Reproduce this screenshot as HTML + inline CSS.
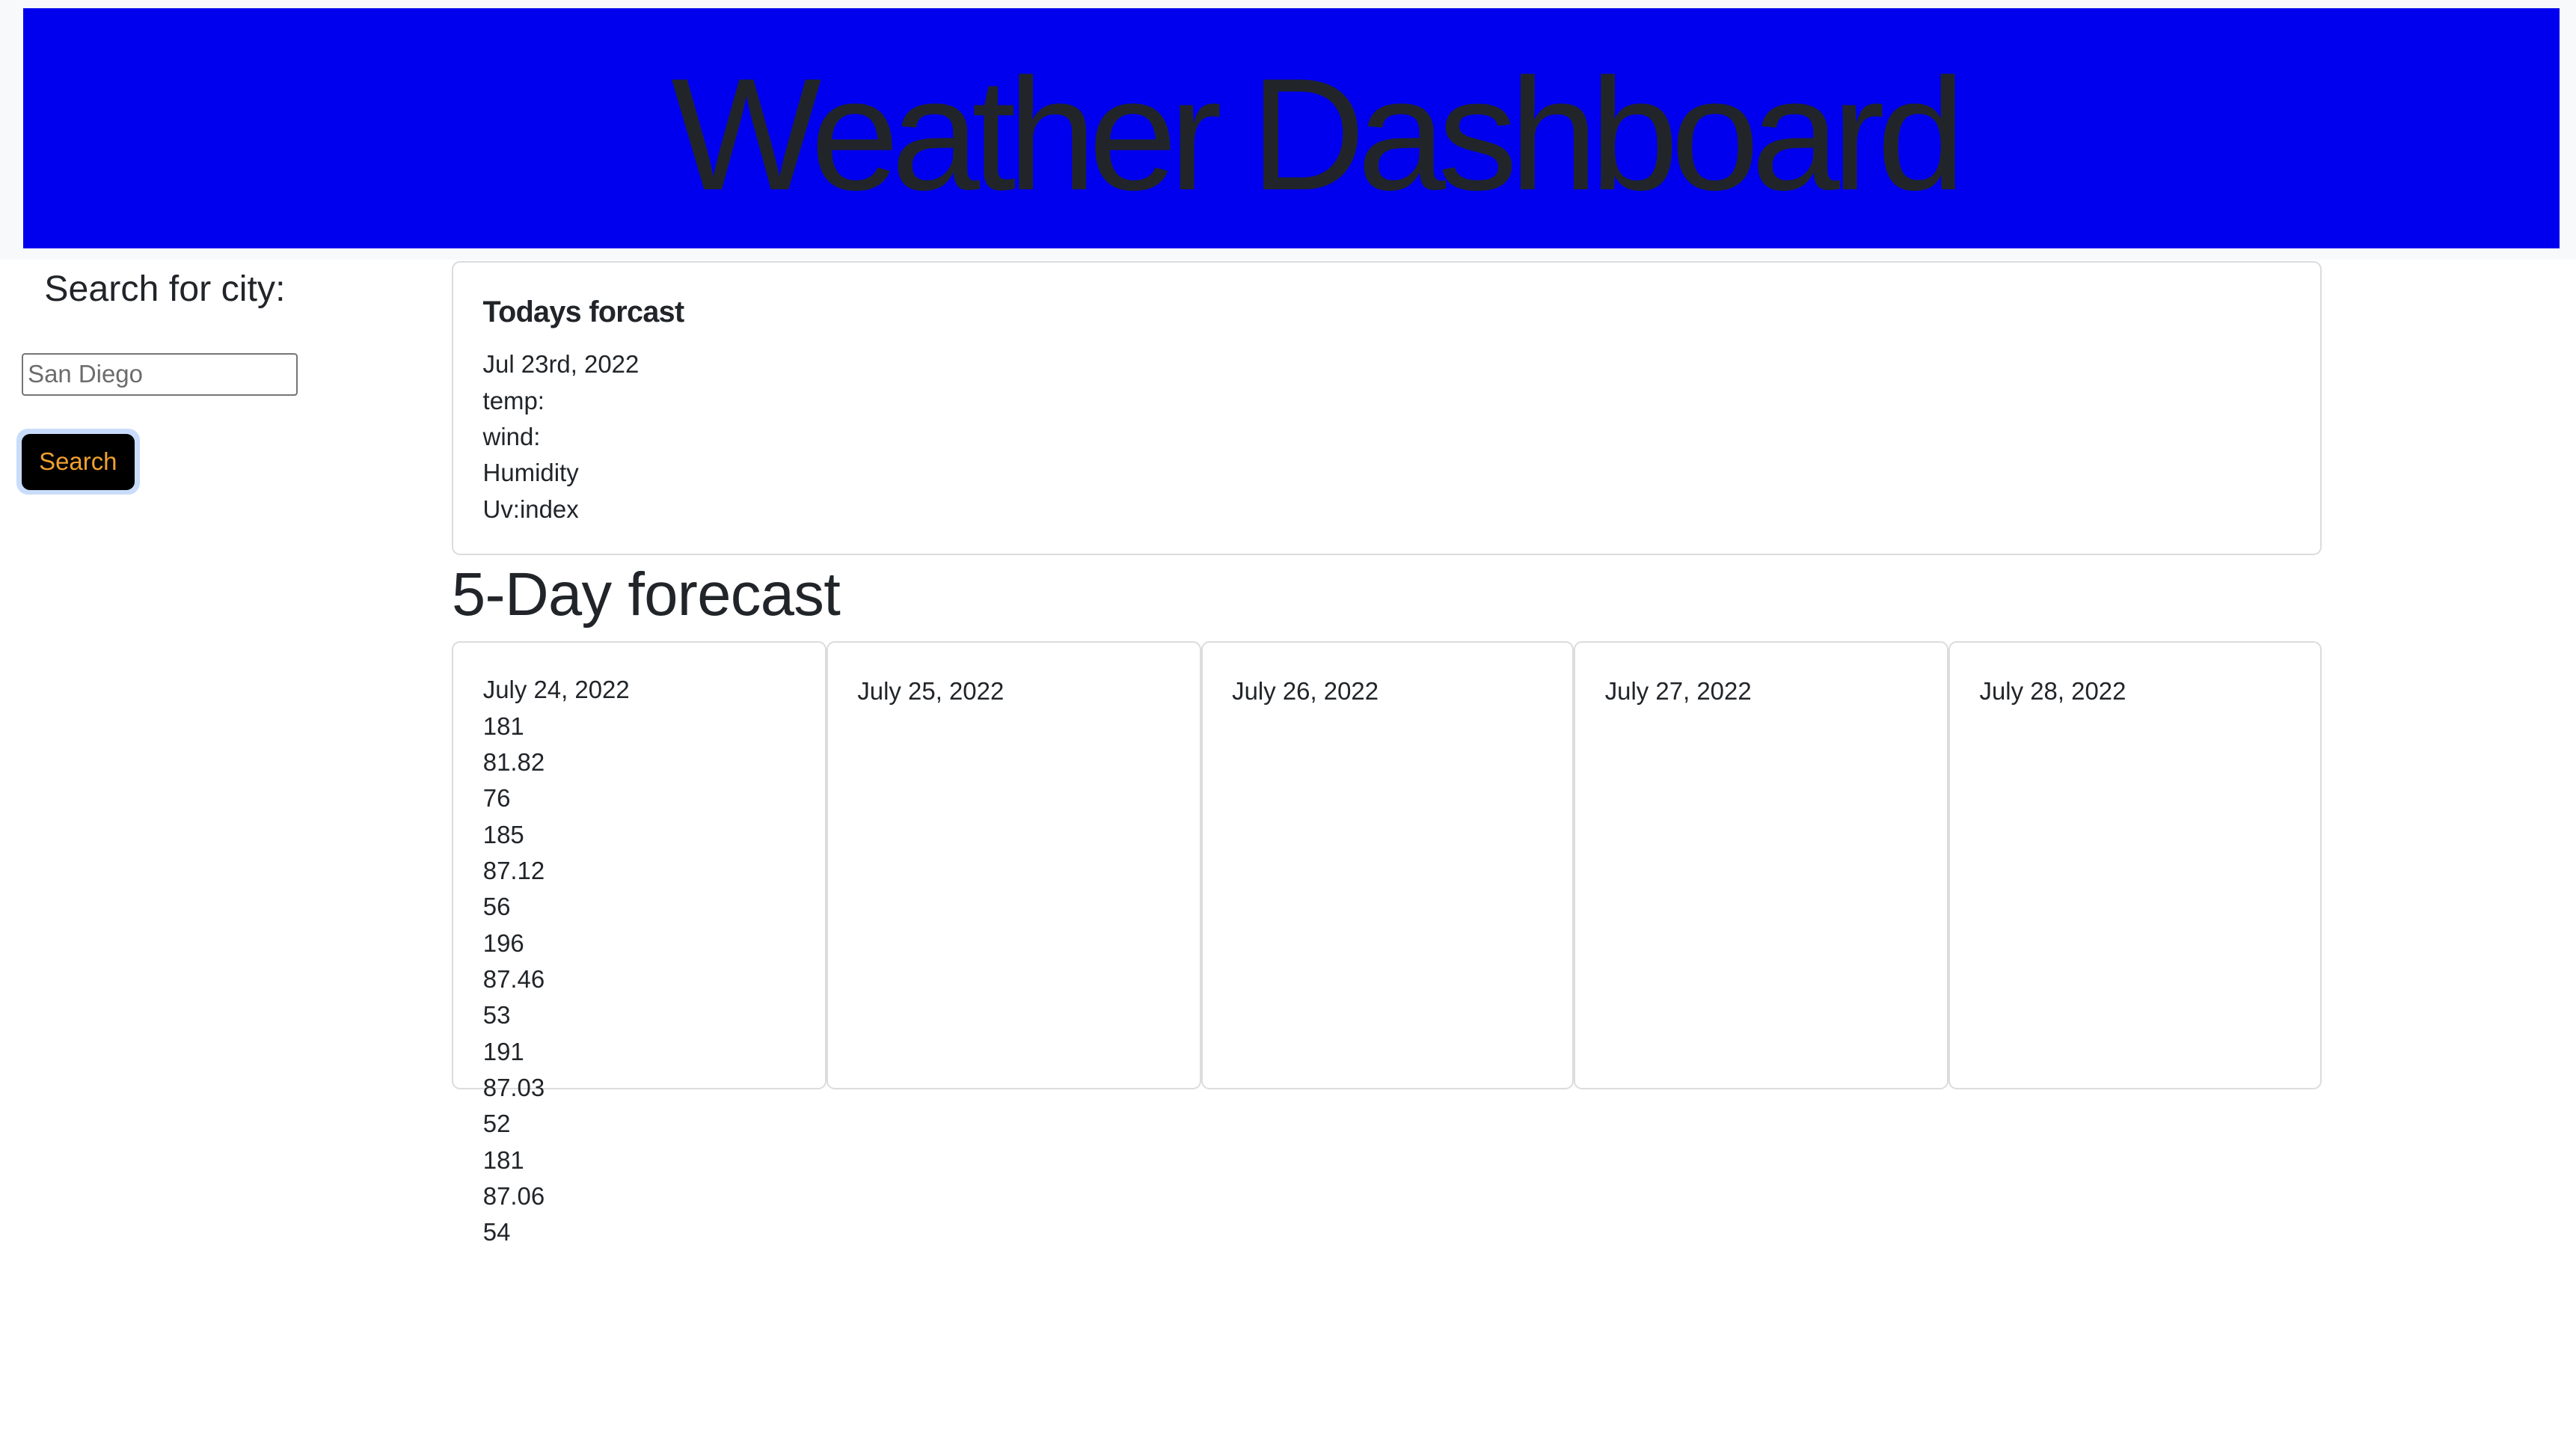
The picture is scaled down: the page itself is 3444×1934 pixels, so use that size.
<!DOCTYPE html>
<html><head><meta charset="utf-8">
<style>
html,body{margin:0;padding:0;background:#fff;}
body{width:1568px;height:880.6px;zoom:2.19643;position:relative;overflow:hidden;font-family:"Liberation Sans",Arial,sans-serif;color:#212529;}
.abs{position:absolute;white-space:nowrap;}
#hdr{left:0;top:0;width:1568px;height:158px;background:#f8f9fa;}
#blue{left:14px;top:5px;width:1544px;height:146px;background:#0000ee;}
#title{left:0;width:1600px;top:29px;text-align:center;font-size:97px;line-height:106px;letter-spacing:-4.9px;color:#212529;}
.card{position:absolute;border:1px solid #dcdcdc;border-radius:5px;box-sizing:border-box;background:#fff;}
.ln{font-size:15px;line-height:22px;}
</style></head><body>
<div class="abs" id="hdr"></div>
<div class="abs" id="blue"></div>
<div class="abs" id="title">Weather Dashboard</div>

<div class="abs" style="left:27px;top:162px;font-size:22px;line-height:28px;">Search for city:</div>
<div class="abs" style="left:13px;top:215px;width:168px;height:26px;border:1px solid #767676;border-radius:2px;box-sizing:border-box;font-size:15px;line-height:24px;color:#6c6c6c;padding-left:3px;">San Diego</div>
<div class="abs" style="left:10px;top:261px;width:75px;height:40px;border-radius:7px;background:#c9dcfb;"></div>
<div class="abs" style="left:13px;top:264px;width:69px;height:34px;border-radius:5px;background:#000;color:#f0a030;font-size:15px;line-height:34px;text-align:center;">Search</div>

<div class="card" style="left:275px;top:159px;width:1138px;height:179px;">
  <div class="abs" style="left:18px;top:18px;font-size:18px;font-weight:bold;line-height:24px;letter-spacing:-0.3px;">Todays forcast</div>
  <div class="abs" style="left:18px;top:51px;">
    <div class="ln">Jul 23rd, 2022</div>
    <div class="ln">temp:</div>
    <div class="ln">wind:</div>
    <div class="ln">Humidity</div>
    <div class="ln">Uv:index</div>
  </div>
</div>

<div class="abs" style="left:275px;top:340px;font-size:37px;line-height:44px;letter-spacing:-0.3px;">5-Day forecast</div>

<div class="card" style="left:275px;top:390px;width:228px;height:273px;"></div>
<div class="card" style="left:503px;top:390px;width:228px;height:273px;">
  <div class="abs ln" style="left:18px;top:19px;">July 25, 2022</div></div>
<div class="card" style="left:731px;top:390px;width:227px;height:273px;">
  <div class="abs ln" style="left:18px;top:19px;">July 26, 2022</div></div>
<div class="card" style="left:958px;top:390px;width:228px;height:273px;">
  <div class="abs ln" style="left:18px;top:19px;">July 27, 2022</div></div>
<div class="card" style="left:1186px;top:390px;width:227px;height:273px;">
  <div class="abs ln" style="left:18px;top:19px;">July 28, 2022</div></div>

<div class="abs" style="left:294px;top:409px;">
  <div class="ln">July 24, 2022</div>
  <div class="ln">181</div>
  <div class="ln">81.82</div>
  <div class="ln">76</div>
  <div class="ln">185</div>
  <div class="ln">87.12</div>
  <div class="ln">56</div>
  <div class="ln">196</div>
  <div class="ln">87.46</div>
  <div class="ln">53</div>
  <div class="ln">191</div>
  <div class="ln">87.03</div>
  <div class="ln">52</div>
  <div class="ln">181</div>
  <div class="ln">87.06</div>
  <div class="ln">54</div>
</div>
</body></html>
